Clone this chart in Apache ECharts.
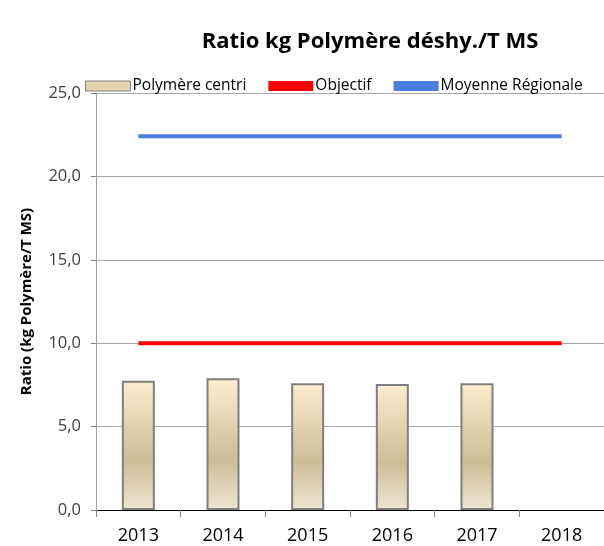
<!DOCTYPE html>
<html><head><meta charset="utf-8">
<script src="https://cdn.jsdelivr.net/npm/echarts@6/dist/echarts.min.js"></script>
<style>html,body{margin:0;padding:0;background:#fff}#c{width:604px;height:546px}</style>
</head><body><div id="c"></div>
<script>
const categories = ['2013','2014','2015','2016','2017','2018'];
const polymere = [7.75, 7.9, 7.6, 7.55, 7.6, null];
const objectif = [10, 10, 10, 10, 10, 10];
const moyenne = [22.4, 22.4, 22.4, 22.4, 22.4, 22.4];
const yTicks = [0, 5, 10, 15, 20, 25];

const chart = echarts.init(document.getElementById('c'));
const font = '"Open Sans", sans-serif';
chart.setOption({
  animation: false,
  title: {text: 'Ratio kg Polymère déshy./T MS', left: 365, top: 26, textAlign: 'center',
    textStyle: {fontFamily: font, fontSize: 22, fontWeight: 'bold', color: '#000'}},
  legend: {top: 73, left: 80, itemGap: 22, itemWidth: 45, itemHeight: 10,
    textStyle: {fontFamily: font, fontSize: 15.5, color: '#000', padding: [0,0,0,-3]},
    data: [
      {name: 'Polymère centri', icon: 'rect', itemStyle: {color: '#e3d5b0', borderColor: '#808080', borderWidth: 1}},
      {name: 'Objectif', icon: 'rect', itemStyle: {color: '#ff0000'}},
      {name: 'Moyenne Régionale', icon: 'rect', itemStyle: {color: '#4a7ede'}}
    ]},
  grid: {left: 96, right: 0, top: 93, bottom: 36, containLabel: false},
  xAxis: {type: 'category', data: categories,
    axisLine: {lineStyle: {color: '#000', width: 1}},
    axisTick: {show: true, length: 7, lineStyle: {color: '#808080'}},
    axisLabel: {fontFamily: font, fontSize: 18, color: '#000', margin: 17},
    splitLine: {show: false}},
  yAxis: {type: 'value', min: 0, max: 25, interval: 5,
    name: 'Ratio (kg Polymère/T MS)', nameLocation: 'middle', nameGap: 62, nameRotate: 90,
    nameTextStyle: {fontFamily: font, fontSize: 15, fontWeight: 'bold', color: '#000'},
    axisLine: {show: true, lineStyle: {color: '#a0a0a0'}},
    axisTick: {show: true, length: 5, lineStyle: {color: '#808080'}},
    axisLabel: {fontFamily: font, fontSize: 16.5, color: '#404040', margin: 15,
      formatter: v => yTicks.includes(v) ? v.toFixed(1).replace('.', ',') : ''},
    splitLine: {lineStyle: {color: '#a8a8a8', width: 1}}},
  series: [
    {name: 'Polymère centri', type: 'bar', data: polymere, barWidth: 33, z: 2,
      itemStyle: {borderColor: '#7f7f7f', borderWidth: 2,
        color: new echarts.graphic.LinearGradient(0,0,0,1,[
          {offset: 0, color: '#fcedcf'}, {offset: 0.62, color: '#cbbd96'}, {offset: 1, color: '#eee6d2'}])}},
    {name: 'Objectif', type: 'line', data: objectif, symbol: 'none', z: 3,
      lineStyle: {color: '#ff0000', width: 4}},
    {name: 'Moyenne Régionale', type: 'line', data: moyenne, symbol: 'none', z: 3,
      lineStyle: {color: '#4a7ede', width: 4}}
  ]
});
</script></body></html>
